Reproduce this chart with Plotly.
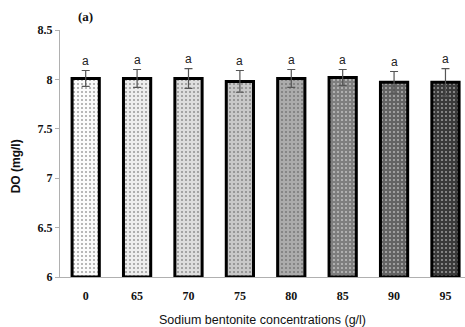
import plotly.graph_objects as go

categories = ["0", "65", "70", "75", "80", "85", "90", "95"]
do_values = [8.01, 8.01, 8.01, 7.98, 8.01, 8.02, 7.97, 7.97]
do_errors = [0.08, 0.09, 0.10, 0.11, 0.09, 0.08, 0.11, 0.14]
letters = ["a", "a", "a", "a", "a", "a", "a", "a"]
y_ticks = [6, 6.5, 7, 7.5, 8, 8.5]
y_ticktext = ["6", "6.5", "7", "7.5", "8", "8.5"]

bg_colors = ["#fbfbfb", "#eeeeee", "#dedede", "#c8c8c8", "#ababab", "#7e7e7e", "#636363", "#3a3a3a"]
fg_colors = ["#c8c8c8", "#cacaca", "#bdbdbd", "#b2b2b2", "#c4c4c4", "#c8c8c8", "#4c4c4c", "#262626"]

fig = go.Figure()
fig.add_trace(go.Bar(
    x=list(range(len(categories))),
    y=[v - 6 for v in do_values],
    base=6,
    width=0.53,
    marker=dict(
        color=bg_colors,
        line=dict(color="#000000", width=3),
        pattern=dict(shape=".", fgcolor=fg_colors, bgcolor=bg_colors, size=4, solidity=0.2),
    ),
    error_y=dict(type="data", array=do_errors, color="#555555", thickness=1.2, width=4),
    showlegend=False,
))

for i, (v, e, t) in enumerate(zip(do_values, do_errors, letters)):
    fig.add_annotation(x=i, y=v + e, text=t, showarrow=False, yanchor="bottom", yshift=1,
                       font=dict(family="Liberation Sans", size=12, color="#222222"))

fig.add_annotation(xref="paper", yref="paper", x=0.062, y=1.053, text="<b>(a)</b>",
                   showarrow=False, xanchor="center", yanchor="middle",
                   font=dict(family="Liberation Serif", size=13, color="#111111"))

fig.add_annotation(xref="paper", yref="paper", x=-0.11, y=0.45, text="<b>DO (mg/l)</b>",
                   textangle=-90, showarrow=False, xanchor="center", yanchor="middle",
                   font=dict(family="Liberation Sans", size=12, color="#111111"))

fig.update_layout(
    width=465, height=327,
    margin=dict(l=60, r=0, t=30, b=50),
    paper_bgcolor="white", plot_bgcolor="white",
    xaxis=dict(
        range=[-0.5, 7.38], tickmode="array", tickvals=list(range(len(categories))),
        ticktext=["<b>%s</b>" % c for c in categories],
        showline=True, linecolor="#b0b0b0", linewidth=1, ticks="", showgrid=False, zeroline=False,
        tickfont=dict(family="Liberation Serif", size=12, color="#111111"),
        ticklabelstandoff=8,
        title=dict(text="Sodium bentonite concentrations (g/l)", standoff=12,
                   font=dict(family="Liberation Sans", size=12.5, color="#111111")),
    ),
    yaxis=dict(
        range=[6, 8.5], tickmode="array", tickvals=y_ticks,
        ticktext=["<b>%s</b>" % t for t in y_ticktext],
        showline=True, linecolor="#b0b0b0", linewidth=1, ticks="outside", ticklen=4,
        tickcolor="#b0b0b0", showgrid=False, zeroline=False,
        tickfont=dict(family="Liberation Serif", size=12, color="#111111"),
    ),
)

fig.write_html("out.html")
